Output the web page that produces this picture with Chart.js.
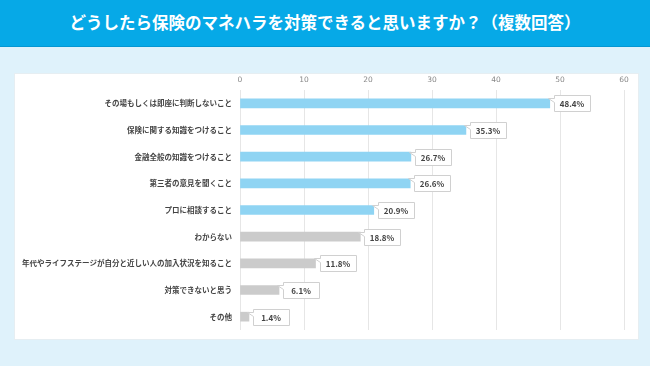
<!DOCTYPE html>
<html>
<head>
    <title>保険のマネハラ対策</title>
    <script src="https://cdn.jsdelivr.net/npm/chart.js@4.4.0/dist/chart.umd.min.js"></script>
    <style>
        body { margin: 0; width: 650px; height: 366px; background: #dff2fb; position: relative; overflow: hidden; font-family: "Noto Sans CJK JP", sans-serif; }
        #cabecera { position: absolute; left: 0; top: 0; width: 650px; height: 46px; background: #06a9e7; border-bottom: 1px solid #0597d2;
            color: white; font-weight: bold; font-size: 16.5px; text-align: center; line-height: 44px; }
        #panel { position: absolute; left: 14px; top: 73px; width: 623px; height: 265px; background: white; border: 1px solid #e6eef2; }
        #myChart { position: absolute; left: 0; top: 0; }
    </style>
</head>
<body>
    <div id="cabecera">どうしたら保険のマネハラを対策できると思いますか？（複数回答）</div>
    <div id="panel"></div>
    <canvas id="myChart" width="650" height="366"></canvas>
    <script>
        // Datos de la gráfica
        const categorias = [
            'その場もしくは即座に判断しないこと',
            '保険に関する知識をつけること',
            '金融全般の知識をつけること',
            '第三者の意見を聞くこと',
            'プロに相談すること',
            'わからない',
            '年代やライフステージが自分と近しい人の加入状況を知ること',
            '対策できないと思う',
            'その他'
        ];
        const porcentajes = [48.4, 35.3, 26.7, 26.6, 20.9, 18.8, 11.8, 6.1, 1.4];
        const coloresBarras = ['#8fd4f3', '#8fd4f3', '#8fd4f3', '#8fd4f3', '#8fd4f3', '#cbcbcb', '#cbcbcb', '#cbcbcb', '#cbcbcb'];
        const ticksX = [0, 10, 20, 30, 40, 50, 60];

        // Plugin para dibujar las etiquetas tipo globo
        const etiquetas = {
            id: 'etiquetas',
            afterDatasetsDraw(chart) {
                const c = chart.ctx;
                const meta = chart.getDatasetMeta(0);
                c.save();
                c.font = 'bold 8px "Noto Sans CJK JP", sans-serif';
                meta.data.forEach((bar, i) => {
                    const texto = porcentajes[i].toFixed(1) + '%';
                    const x = Math.round(bar.x) + 4, y = Math.round(bar.y) - 8, w = 36, h = 16;
                    c.fillStyle = 'white';
                    c.strokeStyle = '#d0d0d0';
                    c.lineWidth = 1;
                    c.beginPath();
                    c.moveTo(x + 0.5, y + 0.5);
                    c.lineTo(x + w + 0.5, y + 0.5);
                    c.lineTo(x + w + 0.5, y + h + 0.5);
                    c.lineTo(x + 0.5, y + h + 0.5);
                    c.lineTo(x + 0.5, y + 7.5);
                    c.lineTo(x - 5.5, y + 3.5);
                    c.lineTo(x + 0.5, y + 3.5);
                    c.closePath();
                    c.fill();
                    c.stroke();
                    c.fillStyle = '#444';
                    c.textAlign = 'center';
                    c.textBaseline = 'middle';
                    c.fillText(texto, x + w / 2, y + h / 2 + 1);
                });
                c.restore();
            }
        };

        var ctx = document.getElementById('myChart').getContext('2d');
        var myChart = new Chart(ctx, {
            type: 'bar',
            data: {
                labels: categorias,
                datasets: [{
                    data: porcentajes,
                    backgroundColor: coloresBarras,
                    barThickness: 9
                }]
            },
            options: {
                indexAxis: 'y',
                responsive: false,
                animation: false,
                layout: { padding: { left: 0, right: 26, top: 0, bottom: 36 } },
                scales: {
                    x: {
                        position: 'top',
                        min: 0,
                        max: 60,
                        afterBuildTicks: (s) => { s.ticks = ticksX.map(v => ({ value: v })); },
                        afterFit: (s) => { s.height = 90; },
                        grid: { color: '#e6e6e6', drawTicks: false },
                        border: { display: false },
                        ticks: { padding: 5, color: '#888', font: { size: 7.5, family: 'Verdana, "DejaVu Sans", sans-serif' } }
                    },
                    y: {
                        afterFit: (s) => { s.width = 240; },
                        grid: { display: false, drawTicks: false },
                        border: { display: false },
                        ticks: { padding: 8, color: '#444', font: { size: 7.5, weight: 'bold', family: '"Noto Sans CJK JP", sans-serif' } }
                    }
                },
                plugins: {
                    legend: { display: false },
                    tooltip: { enabled: false }
                }
            },
            plugins: [etiquetas]
        });
    </script>
</body>
</html>
